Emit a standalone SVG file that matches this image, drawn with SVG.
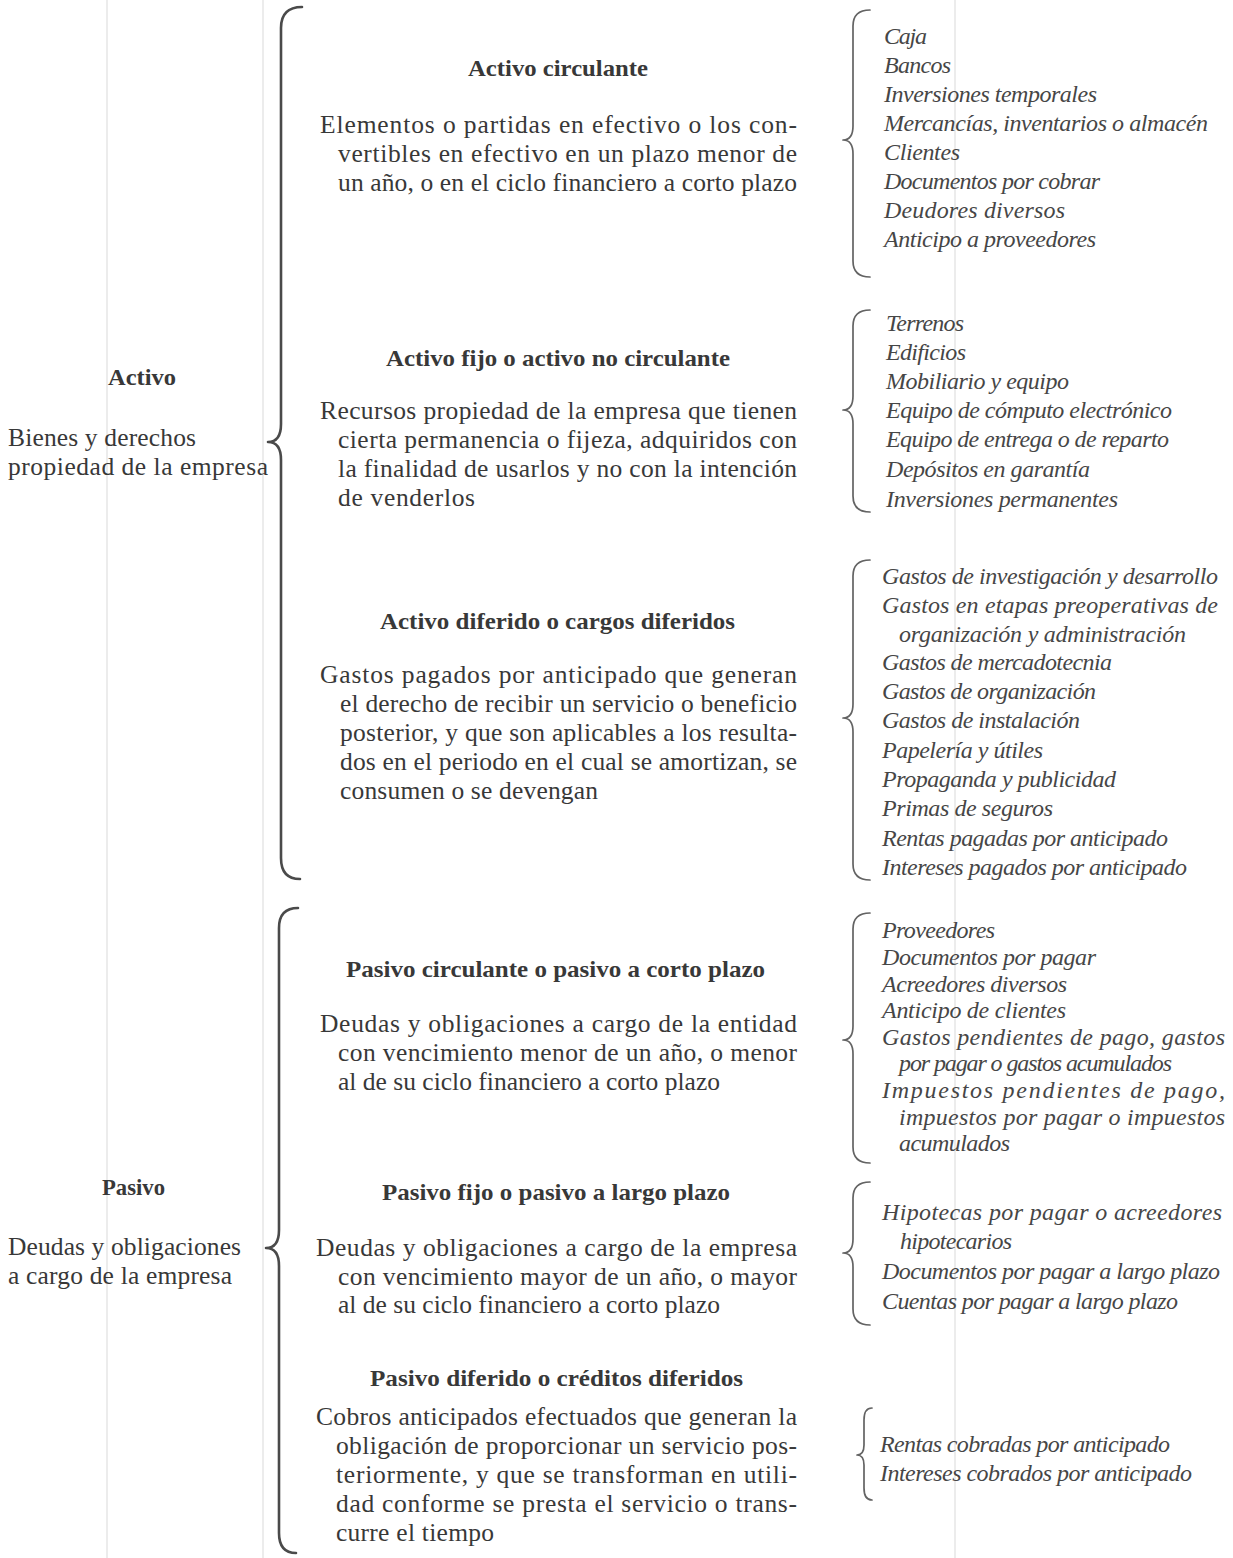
<svg xmlns="http://www.w3.org/2000/svg" width="1233" height="1558" viewBox="0 0 1233 1558">
<style>
text{font-family:"Liberation Serif","Times New Roman",serif;}
.b{font-size:25.5px;fill:#383838;}
.h{font-size:24px;font-weight:bold;fill:#383838;}
.i{font-size:24px;font-style:italic;fill:#464646;}
.bigbrace{fill:none;stroke:#4a4a4a;stroke-width:2.6;stroke-linecap:round;stroke-linejoin:round;}
.brace{fill:none;stroke:#636363;stroke-width:1.7;stroke-linecap:round;stroke-linejoin:round;}
.ghost{stroke:#e6e6e6;stroke-width:1.5;}
</style>
<rect width="1233" height="1558" fill="#ffffff"/>
<g id="page-lines">
<line class="ghost" x1="107" y1="0" x2="107" y2="1558"/>
<line class="ghost" x1="263" y1="0" x2="263" y2="1558"/>
<line class="ghost" x1="955" y1="0" x2="955" y2="1558"/>
</g>
<g id="connectors">
<path class="bigbrace" d="M302,7 Q281,7 281,28 L281,424 Q281,442 268,442 Q281,442 281,460 L281,858 Q281,879 300,879"/>
<path class="bigbrace" d="M298,908 Q279,908 279,928 L279,1230 Q279,1248 266,1248 Q279,1248 279,1266 L279,1533 Q279,1553 296,1553"/>
<path class="brace" d="M870,10 Q853,10 853,26 L853,126 Q853,140 843,140 Q853,140 853,154 L853,261 Q853,277 870,277"/>
<path class="brace" d="M870,310 Q853,310 853,326 L853,396 Q853,410 843,410 Q853,410 853,424 L853,496 Q853,512 870,512"/>
<path class="brace" d="M870,560 Q853,560 853,576 L853,704 Q853,718 843,718 Q853,718 853,732 L853,864 Q853,880 870,880"/>
<path class="brace" d="M870,913 Q853,913 853,929 L853,1026 Q853,1040 843,1040 Q853,1040 853,1054 L853,1147 Q853,1163 870,1163"/>
<path class="brace" d="M870,1182 Q853,1182 853,1198 L853,1239 Q853,1253 843,1253 Q853,1253 853,1267 L853,1309 Q853,1325 870,1325"/>
<path class="brace" d="M872,1408 Q864,1408 864,1420 L864,1445 Q864,1455 857,1455 Q864,1455 864,1465 L864,1488 Q864,1500 872,1500"/>
</g>
<g id="activo">
<text class="h" x="108" y="385" textLength="68" lengthAdjust="spacingAndGlyphs">Activo</text>
<text class="b" x="8" y="446" textLength="188" lengthAdjust="spacing">Bienes y derechos</text>
<text class="b" x="8" y="475" textLength="260" lengthAdjust="spacing">propiedad de la empresa</text>
</g>
<g id="pasivo">
<text class="h" x="102" y="1195" textLength="63" lengthAdjust="spacingAndGlyphs">Pasivo</text>
<text class="b" x="8" y="1255" textLength="233" lengthAdjust="spacing">Deudas y obligaciones</text>
<text class="b" x="8" y="1284" textLength="224" lengthAdjust="spacing">a cargo de la empresa</text>
</g>
<g id="activo-circulante">
<text class="h" x="468" y="76" textLength="180" lengthAdjust="spacingAndGlyphs">Activo circulante</text>
<text class="b" x="320" y="133" textLength="477" lengthAdjust="spacing">Elementos o partidas en efectivo o los con-</text>
<text class="b" x="338" y="162" textLength="459" lengthAdjust="spacing">vertibles en efectivo en un plazo menor de</text>
<text class="b" x="338" y="191" textLength="459" lengthAdjust="spacing">un año, o en el ciclo financiero a corto plazo</text>
</g>
<g id="activo-circulante-items">
<text class="i" x="884" y="44" textLength="43" lengthAdjust="spacing">Caja</text>
<text class="i" x="884" y="73" textLength="67" lengthAdjust="spacing">Bancos</text>
<text class="i" x="884" y="102" textLength="213" lengthAdjust="spacing">Inversiones temporales</text>
<text class="i" x="884" y="131" textLength="324" lengthAdjust="spacing">Mercancías, inventarios o almacén</text>
<text class="i" x="884" y="160" textLength="76" lengthAdjust="spacing">Clientes</text>
<text class="i" x="884" y="189" textLength="216" lengthAdjust="spacing">Documentos por cobrar</text>
<text class="i" x="884" y="218" textLength="181" lengthAdjust="spacing">Deudores diversos</text>
<text class="i" x="884" y="247" textLength="212" lengthAdjust="spacing">Anticipo a proveedores</text>
</g>
<g id="activo-fijo">
<text class="h" x="386" y="366" textLength="344" lengthAdjust="spacingAndGlyphs">Activo fijo o activo no circulante</text>
<text class="b" x="320" y="419" textLength="477" lengthAdjust="spacing">Recursos propiedad de la empresa que tienen</text>
<text class="b" x="338" y="448" textLength="459" lengthAdjust="spacing">cierta permanencia o fijeza, adquiridos con</text>
<text class="b" x="338" y="477" textLength="459" lengthAdjust="spacing">la finalidad de usarlos y no con la intención</text>
<text class="b" x="338" y="506" textLength="137" lengthAdjust="spacing">de venderlos</text>
</g>
<g id="activo-fijo-items">
<text class="i" x="886" y="331" textLength="78" lengthAdjust="spacing">Terrenos</text>
<text class="i" x="886" y="360" textLength="80" lengthAdjust="spacing">Edificios</text>
<text class="i" x="886" y="389" textLength="183" lengthAdjust="spacing">Mobiliario y equipo</text>
<text class="i" x="886" y="418" textLength="286" lengthAdjust="spacing">Equipo de cómputo electrónico</text>
<text class="i" x="886" y="447" textLength="283" lengthAdjust="spacing">Equipo de entrega o de reparto</text>
<text class="i" x="886" y="477" textLength="204" lengthAdjust="spacing">Depósitos en garantía</text>
<text class="i" x="886" y="507" textLength="232" lengthAdjust="spacing">Inversiones permanentes</text>
</g>
<g id="activo-diferido">
<text class="h" x="380" y="629" textLength="355" lengthAdjust="spacingAndGlyphs">Activo diferido o cargos diferidos</text>
<text class="b" x="320" y="683" textLength="477" lengthAdjust="spacing">Gastos pagados por anticipado que generan</text>
<text class="b" x="340" y="712" textLength="457" lengthAdjust="spacing">el derecho de recibir un servicio o beneficio</text>
<text class="b" x="340" y="741" textLength="457" lengthAdjust="spacing">posterior, y que son aplicables a los resulta-</text>
<text class="b" x="340" y="770" textLength="457" lengthAdjust="spacing">dos en el periodo en el cual se amortizan, se</text>
<text class="b" x="340" y="799" textLength="258" lengthAdjust="spacing">consumen o se devengan</text>
</g>
<g id="activo-diferido-items">
<text class="i" x="882" y="584" textLength="336" lengthAdjust="spacing">Gastos de investigación y desarrollo</text>
<text class="i" x="882" y="613" textLength="336" lengthAdjust="spacing">Gastos en etapas preoperativas de</text>
<text class="i" x="899" y="642" textLength="287" lengthAdjust="spacing">organización y administración</text>
<text class="i" x="882" y="670" textLength="230" lengthAdjust="spacing">Gastos de mercadotecnia</text>
<text class="i" x="882" y="699" textLength="214" lengthAdjust="spacing">Gastos de organización</text>
<text class="i" x="882" y="728" textLength="198" lengthAdjust="spacing">Gastos de instalación</text>
<text class="i" x="882" y="758" textLength="161" lengthAdjust="spacing">Papelería y útiles</text>
<text class="i" x="882" y="787" textLength="234" lengthAdjust="spacing">Propaganda y publicidad</text>
<text class="i" x="882" y="816" textLength="171" lengthAdjust="spacing">Primas de seguros</text>
<text class="i" x="882" y="846" textLength="286" lengthAdjust="spacing">Rentas pagadas por anticipado</text>
<text class="i" x="882" y="875" textLength="305" lengthAdjust="spacing">Intereses pagados por anticipado</text>
</g>
<g id="pasivo-circulante">
<text class="h" x="346" y="977" textLength="419" lengthAdjust="spacingAndGlyphs">Pasivo circulante o pasivo a corto plazo</text>
<text class="b" x="320" y="1032" textLength="477" lengthAdjust="spacing">Deudas y obligaciones a cargo de la entidad</text>
<text class="b" x="338" y="1061" textLength="459" lengthAdjust="spacing">con vencimiento menor de un año, o menor</text>
<text class="b" x="338" y="1090" textLength="382" lengthAdjust="spacing">al de su ciclo financiero a corto plazo</text>
</g>
<g id="pasivo-circulante-items">
<text class="i" x="882" y="938" textLength="113" lengthAdjust="spacing">Proveedores</text>
<text class="i" x="882" y="965" textLength="214" lengthAdjust="spacing">Documentos por pagar</text>
<text class="i" x="882" y="992" textLength="185" lengthAdjust="spacing">Acreedores diversos</text>
<text class="i" x="882" y="1018" textLength="184" lengthAdjust="spacing">Anticipo de clientes</text>
<text class="i" x="882" y="1045" textLength="343" lengthAdjust="spacing">Gastos pendientes de pago, gastos</text>
<text class="i" x="899" y="1071" textLength="273" lengthAdjust="spacing">por pagar o gastos acumulados</text>
<text class="i" x="882" y="1098" textLength="343" lengthAdjust="spacing">Impuestos pendientes de pago,</text>
<text class="i" x="899" y="1125" textLength="326" lengthAdjust="spacing">impuestos por pagar o impuestos</text>
<text class="i" x="899" y="1151" textLength="111" lengthAdjust="spacing">acumulados</text>
</g>
<g id="pasivo-fijo">
<text class="h" x="382" y="1200" textLength="348" lengthAdjust="spacingAndGlyphs">Pasivo fijo o pasivo a largo plazo</text>
<text class="b" x="316" y="1256" textLength="481" lengthAdjust="spacing">Deudas y obligaciones a cargo de la empresa</text>
<text class="b" x="338" y="1285" textLength="459" lengthAdjust="spacing">con vencimiento mayor de un año, o mayor</text>
<text class="b" x="338" y="1313" textLength="382" lengthAdjust="spacing">al de su ciclo financiero a corto plazo</text>
</g>
<g id="pasivo-fijo-items">
<text class="i" x="882" y="1220" textLength="340" lengthAdjust="spacing">Hipotecas por pagar o acreedores</text>
<text class="i" x="900" y="1249" textLength="112" lengthAdjust="spacing">hipotecarios</text>
<text class="i" x="882" y="1279" textLength="338" lengthAdjust="spacing">Documentos por pagar a largo plazo</text>
<text class="i" x="882" y="1309" textLength="296" lengthAdjust="spacing">Cuentas por pagar a largo plazo</text>
</g>
<g id="pasivo-diferido">
<text class="h" x="370" y="1386" textLength="373" lengthAdjust="spacingAndGlyphs">Pasivo diferido o créditos diferidos</text>
<text class="b" x="316" y="1425" textLength="481" lengthAdjust="spacing">Cobros anticipados efectuados que generan la</text>
<text class="b" x="336" y="1454" textLength="461" lengthAdjust="spacing">obligación de proporcionar un servicio pos-</text>
<text class="b" x="336" y="1483" textLength="461" lengthAdjust="spacing">teriormente, y que se transforman en utili-</text>
<text class="b" x="336" y="1512" textLength="461" lengthAdjust="spacing">dad conforme se presta el servicio o trans-</text>
<text class="b" x="336" y="1541" textLength="158" lengthAdjust="spacing">curre el tiempo</text>
</g>
<g id="pasivo-diferido-items">
<text class="i" x="880" y="1452" textLength="290" lengthAdjust="spacing">Rentas cobradas por anticipado</text>
<text class="i" x="880" y="1481" textLength="312" lengthAdjust="spacing">Intereses cobrados por anticipado</text>
</g>
</svg>
